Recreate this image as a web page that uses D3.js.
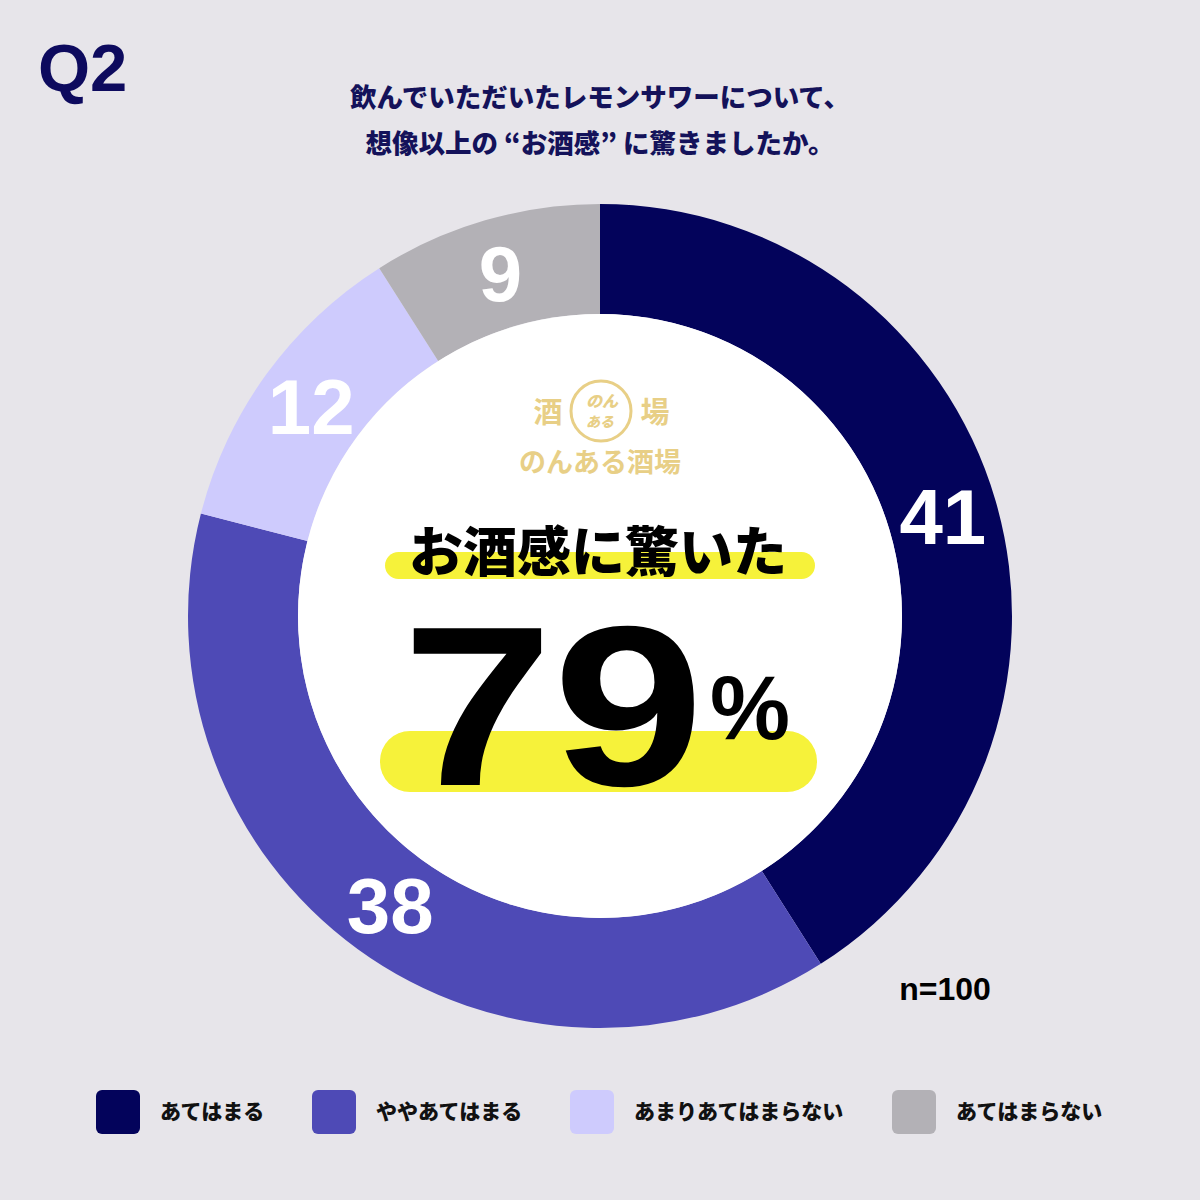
<!DOCTYPE html>
<html><head><meta charset="utf-8">
<script src="https://cdn.jsdelivr.net/npm/d3@7"></script>
<style>html,body{margin:0;padding:0;background:#e7e5ea;}</style>
</head><body>
<script>
const categories = ["あてはまる", "ややあてはまる", "あまりあてはまらない", "あてはまらない"];
const values = [41, 38, 12, 9];
const colors = ["#03035b", "#4e4ab6", "#cecbfd", "#b3b1b6"];
const titleQ = "Q2";
const subtitleLines = ["飲んでいただいたレモンサワーについて、", "想像以上の “お酒感” に驚きましたか。"];
const centerLabel = "お酒感に驚いた";
const centerValue = "79";
const sampleNote = "n=100";

const W = 1200, H = 1200;
const svg = d3.select("body").append("svg").attr("width", W).attr("height", H)
  .style("font-family", "'Noto Sans CJK JP', 'Liberation Sans', sans-serif");
svg.append("rect").attr("width", W).attr("height", H).attr("fill", "#e7e5ea");

svg.append("text").attr("x", 38).attr("y", 91).text(titleQ)
  .attr("font-family", "'Liberation Sans', Arial, sans-serif").attr("font-weight", 700)
  .attr("font-size", 67).attr("fill", "#0d0a5e");

svg.selectAll("text.sub").data(subtitleLines).join("text").attr("class", "sub")
  .attr("x", 600).attr("y", (d, i) => 107 + i * 46).attr("text-anchor", "middle")
  .attr("font-weight", 900).attr("font-size", 26.5).attr("fill", "#14125a").text(d => d);

const cx = 600, cy = 616, rOuter = 412, rInner = 302;
const g = svg.append("g").attr("transform", `translate(${cx},${cy})`);
const pie = d3.pie().sort(null).value(d => d);
const arcs = pie(values);
const arc = d3.arc().innerRadius(rInner).outerRadius(rOuter);
g.selectAll("path.seg").data(arcs).join("path").attr("class", "seg")
  .attr("d", arc).attr("fill", (d, i) => colors[i]);
g.append("circle").attr("r", rInner).attr("fill", "#ffffff");

const labelArc = d3.arc().innerRadius((rInner + rOuter) / 2).outerRadius((rInner + rOuter) / 2);
g.selectAll("text.val").data(arcs).join("text").attr("class", "val")
  .attr("transform", d => { const c = labelArc.centroid(d); return `translate(${c[0]},${c[1]})`; })
  .attr("text-anchor", "middle").attr("dy", "0.36em")
  .attr("font-family", "'Liberation Sans', Arial, sans-serif").attr("font-weight", 700)
  .attr("font-size", 78).attr("fill", "#ffffff").text(d => d.data);

// logo
const gold = "#e8cf86";
const logo = svg.append("g").attr("fill", gold);
logo.append("text").attr("x", 548).attr("y", 423).attr("text-anchor", "middle").attr("font-size", 29).attr("font-weight", 700).text("酒");
logo.append("text").attr("x", 655).attr("y", 423).attr("text-anchor", "middle").attr("font-size", 29).attr("font-weight", 700).text("場");
svg.append("circle").attr("cx", 601).attr("cy", 411).attr("r", 30).attr("fill", "none").attr("stroke", gold).attr("stroke-width", 3);
logo.append("text").attr("x", 602).attr("y", 407).attr("text-anchor", "middle").attr("font-size", 16).attr("font-weight", 900).attr("font-style", "italic").text("のん");
logo.append("text").attr("x", 600).attr("y", 427).attr("text-anchor", "middle").attr("font-size", 14).attr("font-weight", 900).attr("font-style", "italic").text("ある");
logo.append("text").attr("x", 600).attr("y", 472).attr("text-anchor", "middle").attr("font-size", 27).attr("font-weight", 700).text("のんある酒場");

// highlight bars
const yellow = "#f6f23a";
svg.append("rect").attr("x", 385).attr("y", 552).attr("width", 430).attr("height", 27).attr("rx", 13.5).attr("fill", yellow);
svg.append("rect").attr("x", 380).attr("y", 731).attr("width", 437).attr("height", 61).attr("rx", 30).attr("fill", yellow);

svg.append("text").attr("x", 598).attr("y", 572).attr("text-anchor", "middle")
  .attr("font-weight", 900).attr("font-size", 54).attr("fill", "#000").text(centerLabel);

svg.append("text").attr("transform", "translate(553,785) scale(1.19,1)").attr("text-anchor", "middle")
  .attr("font-family", "'Liberation Sans', Arial, sans-serif").attr("font-weight", 700).attr("fill", "#000")
  .attr("font-size", 228).text(centerValue);
svg.append("text").attr("x", 750).attr("y", 739).attr("text-anchor", "middle")
  .attr("font-family", "'Liberation Sans', Arial, sans-serif").attr("font-weight", 700)
  .attr("font-size", 90).attr("fill", "#000").text("%");

svg.append("text").attr("x", 945).attr("y", 1000).attr("text-anchor", "middle")
  .attr("font-family", "'Liberation Sans', Arial, sans-serif").attr("font-weight", 700)
  .attr("font-size", 32).attr("fill", "#000").text(sampleNote);

// legend
const legendX = [96, 312, 570, 892];
const lg = svg.selectAll("g.leg").data(categories).join("g").attr("class", "leg")
  .attr("transform", (d, i) => `translate(${legendX[i]},1090)`);
lg.append("rect").attr("width", 44).attr("height", 44).attr("rx", 6).attr("fill", (d, i) => colors[i]);
lg.append("text").attr("x", 64).attr("y", 22).attr("dy", "0.35em")
  .attr("font-weight", 900).attr("font-size", 21).attr("fill", "#111").text(d => d);
</script>
</body></html>
